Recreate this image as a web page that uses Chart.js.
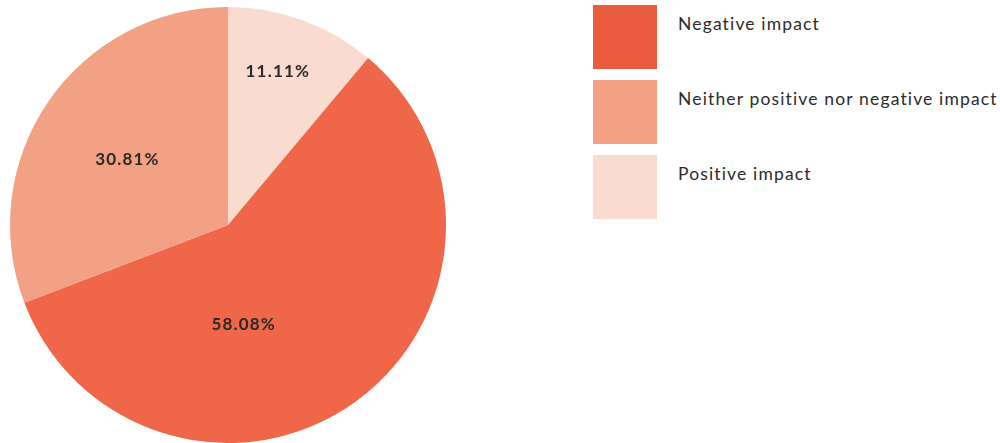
<!DOCTYPE html>
<html>
<head>
<meta charset="utf-8">
<script src="https://cdn.jsdelivr.net/npm/chart.js@4/dist/chart.umd.min.js"></script>
<style>
  body { margin: 0; background: #fff; width: 1000px; height: 443px; overflow: hidden; font-family: Lato, 'Noto Sans', sans-serif; }
  #pieBox { position: absolute; left: 0; top: 0; width: 456px; height: 443px; }
  #legend { position: absolute; left: 593px; top: 5px; }
  .item { position: relative; height: 64px; margin-bottom: 11px; }
  .swatch { position: absolute; left: 0; top: 0; width: 64px; height: 64px; }
  .label { position: absolute; left: 85px; top: 8px; white-space: nowrap; font-size: 17.5px; color: #2b2b2b; letter-spacing: 1.15px; }
</style>
</head>
<body>
<div id="pieBox"><canvas id="myChart"></canvas></div>
<div id="legend"></div>
<script>
'use strict';

// ====================== DATA ======================//
// slices in drawing order (clockwise from 12 o'clock)
let sliceNames = ['Positive impact', 'Negative impact', 'Neither positive nor negative impact'];
let sliceValues = [11.11, 58.08, 30.81];
let sliceColors = ['#f9dbcf', '#ef6648', '#f2a184'];
// legend order
let legendNames = ['Negative impact', 'Neither positive nor negative impact', 'Positive impact'];
let legendColors = ['#e95d3e', '#f2a184', '#f9dbcf'];

// where each percentage sits (angle from top in degrees, fraction of radius)
let labelSpots = [{ a: 18, r: 0.74 }, { a: 171, r: 0.46 }, { a: 303, r: 0.55 }];

// ====================== LEGEND ======================//
let legendDiv = document.getElementById('legend');
for (let i = 0; i < legendNames.length; i++) {
  let item = document.createElement('div');
  item.className = 'item';
  item.innerHTML = '<div class="swatch" style="background:' + legendColors[i] + '"></div>' +
    '<div class="label">' + legendNames[i] + '</div>';
  legendDiv.appendChild(item);
}

// ====================== LABEL PLUGIN ======================//
let percentLabels = {
  id: 'percentLabels',
  afterDatasetsDraw(chart) {
    let ctx = chart.ctx;
    let arcs = chart.getDatasetMeta(0).data;
    ctx.save();
    ctx.font = 'bold 17px Lato, sans-serif';
    ctx.letterSpacing = '1.2px';
    ctx.fillStyle = '#2a2a2a';
    ctx.textAlign = 'center';
    ctx.textBaseline = 'middle';
    for (let i = 0; i < arcs.length; i++) {
      let arc = arcs[i];
      let ang = (labelSpots[i].a - 90) * Math.PI / 180;
      let rr = arc.outerRadius * labelSpots[i].r;
      let x = arc.x + Math.cos(ang) * rr;
      let y = arc.y + Math.sin(ang) * rr;
      ctx.fillText(sliceValues[i].toFixed(2) + '%', x, y);
    }
    ctx.restore();
  }
};

// ====================== CHART ======================//
let chartObject = {
  type: 'pie',
  data: {
    labels: sliceNames,
    datasets: [{
      data: sliceValues,
      backgroundColor: sliceColors,
      borderWidth: 0
    }]
  },
  options: {
    responsive: true,
    maintainAspectRatio: false,
    animation: false,
    layout: { padding: { top: 7, bottom: 0 } },
    plugins: {
      legend: { display: false },
      tooltip: { enabled: false }
    }
  },
  plugins: [percentLabels]
};

let ctx = document.getElementById('myChart').getContext('2d');
let myChart = new Chart(ctx, chartObject);
</script>
</body>
</html>
